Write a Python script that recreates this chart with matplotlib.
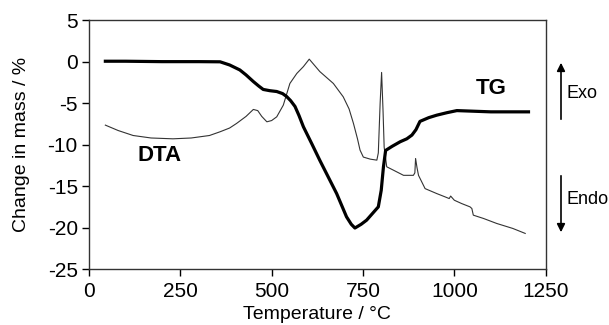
import matplotlib
matplotlib.use("Agg")
import matplotlib.pyplot as plt

plt.rcParams['font.family'] = ['Liberation Sans', 'DejaVu Sans']

# TG curve (change in mass, %)
tg_temp = [45, 100, 200, 300, 359, 385, 413, 430, 450, 465, 477, 495, 514, 530,
           541, 552, 564, 575, 587, 610, 632, 655, 678, 705, 718, 728, 745, 760,
           776, 792, 800, 806, 812, 830, 852, 870, 884, 895, 906, 930, 952, 980,
           1007, 1100, 1203]
tg_mass = [0.05, 0.05, 0.0, 0.0, -0.02, -0.4, -1.0, -1.6, -2.4, -2.95, -3.35,
           -3.5, -3.6, -3.85, -4.2, -4.7, -5.4, -6.5, -7.85, -9.9, -11.9, -13.9,
           -15.9, -18.7, -19.6, -20.05, -19.6, -19.1, -18.3, -17.5, -15.5, -12.7,
           -10.7, -10.2, -9.65, -9.3, -8.85, -8.2, -7.2, -6.75, -6.45, -6.15,
           -5.9, -6.05, -6.05]

# DTA curve (arbitrary, plotted on same axis)
dta_temp = [45, 80, 121, 170, 230, 280, 330, 359, 385, 404, 430, 450, 462, 473,
            487, 500, 514, 532, 550, 569, 587, 603, 632, 669, 696, 712, 724, 735,
            742, 751, 770, 788, 792, 797, 801, 805, 808, 815, 833, 861, 888, 892,
            894, 898, 902, 920, 952, 975, 986, 990, 1000, 1020, 1043, 1048, 1052,
            1080, 1116, 1160, 1194]
dta_val = [-7.65, -8.3, -8.9, -9.2, -9.3, -9.2, -8.9, -8.45, -8.0, -7.45, -6.6,
           -5.76, -5.9, -6.6, -7.25, -7.1, -6.65, -5.24, -2.63, -1.42, -0.6, 0.3,
           -1.2, -2.63, -4.24, -5.7, -7.45, -9.3, -10.66, -11.5, -11.75, -11.87,
           -11.0, -5.0, -1.3, -6.0, -10.3, -12.67, -13.07, -13.7, -13.7, -13.4,
           -11.67, -12.8, -13.7, -15.3, -15.9, -16.3, -16.5, -16.2, -16.7, -17.1,
           -17.5, -17.7, -18.5, -18.9, -19.5, -20.1, -20.7]

fig = plt.figure(figsize=(6.09, 3.25), dpi=100)
ax = fig.add_axes([0.146, 0.172, 0.75, 0.766])

ax.plot(dta_temp, dta_val, color="#333333", lw=0.8)
ax.plot(tg_temp, tg_mass, color="black", lw=2.3, solid_joinstyle="round")

ax.set_xlim(0, 1250)
ax.set_ylim(-25, 5)
ax.set_xticks([0, 250, 500, 750, 1000, 1250])
ax.set_yticks([5, 0, -5, -10, -15, -20, -25])
ax.set_yticklabels(["5", "0", "-5", "-10", "-15", "-20", "-25"])
ax.tick_params(axis="both", direction="out", length=5, width=1, labelsize=15,
               top=False, right=False)
ax.tick_params(axis="x", pad=4)
ax.tick_params(axis="y", pad=3)
ax.set_xlabel("Temperature / °C", fontsize=14)
ax.set_ylabel("Change in mass / %", fontsize=14)
ax.xaxis.set_label_coords(0.5, -0.15)
ax.yaxis.set_label_coords(-0.13, 0.5)
for s in ax.spines.values():
    s.set_color("#333333")
    s.set_linewidth(1.0)

ax.text(194, -11.3, "DTA", fontsize=16, fontweight="bold", ha="center", va="center")
ax.text(1101, -3.2, "TG", fontsize=16, fontweight="bold", ha="center", va="center")

# Exo / Endo arrows outside the axes
ax.annotate("", xy=(561, 325 - 60), xytext=(561, 325 - 122), xycoords="figure pixels",
            textcoords="figure pixels",
            arrowprops=dict(arrowstyle="-|>", color="black", lw=1.2, mutation_scale=12))
ax.annotate("", xy=(561, 325 - 235), xytext=(561, 325 - 173), xycoords="figure pixels",
            textcoords="figure pixels",
            arrowprops=dict(arrowstyle="-|>", color="black", lw=1.2, mutation_scale=12))
fig.text(566 / 609, 1 - 93 / 325, "Exo", fontsize=13, ha="left", va="center")
fig.text(566 / 609, 1 - 200 / 325, "Endo", fontsize=13, ha="left", va="center")

fig.savefig("out.png", dpi=100)
